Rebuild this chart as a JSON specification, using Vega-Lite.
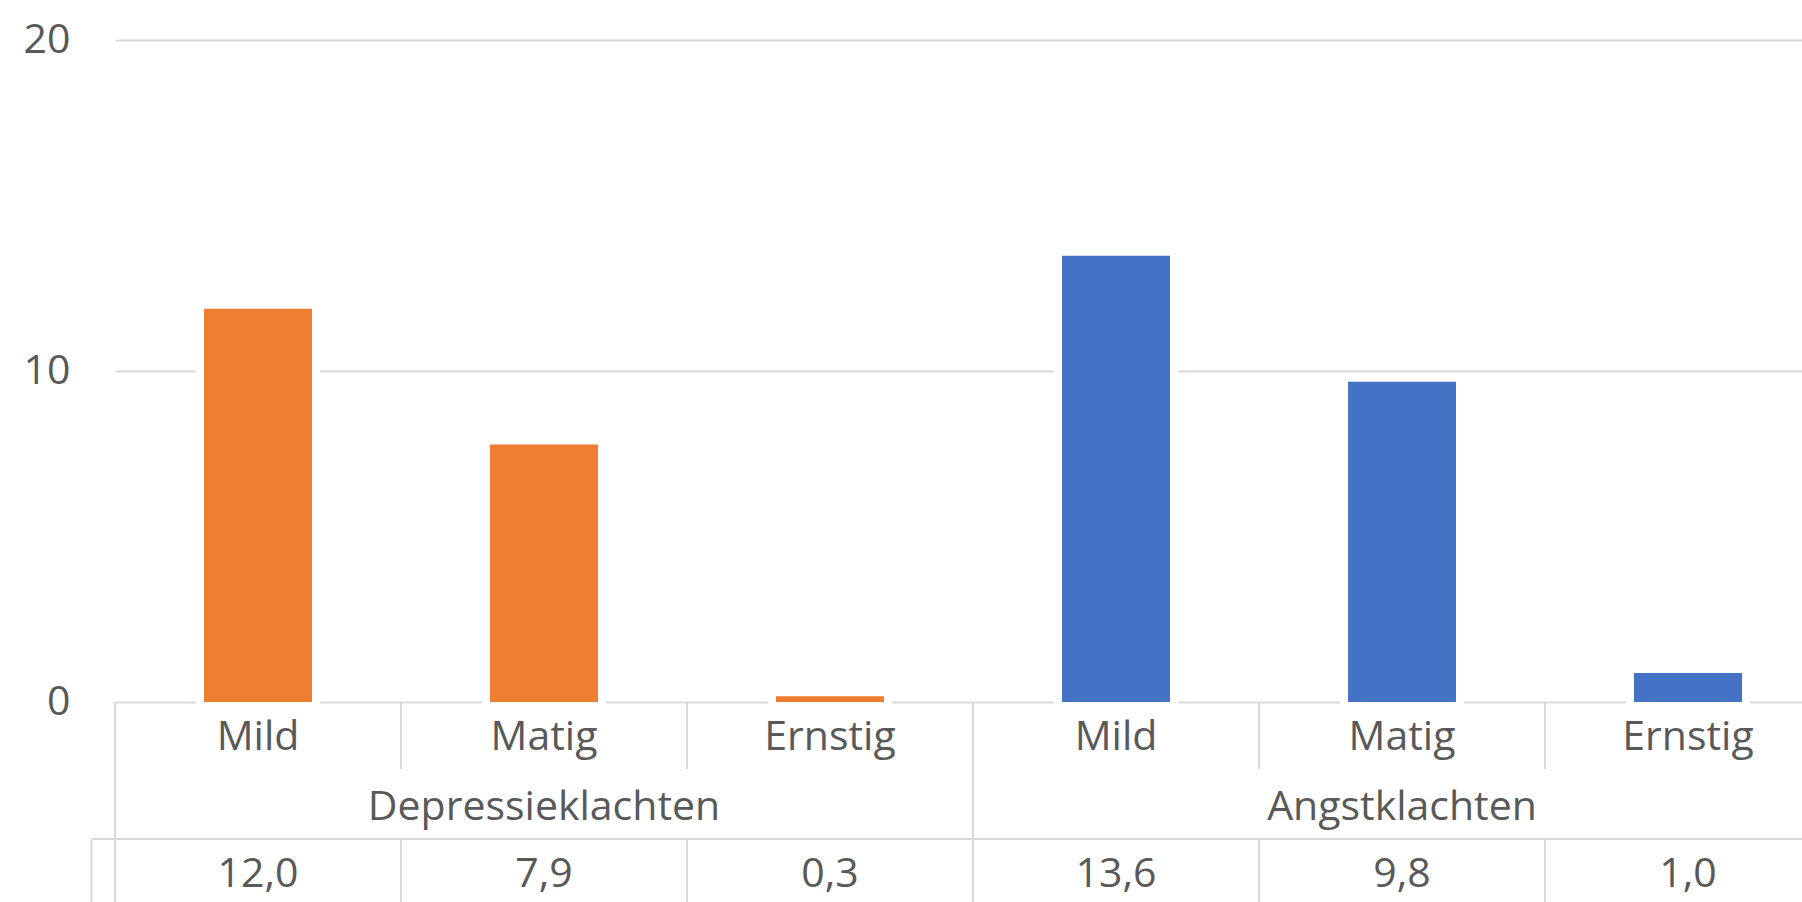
{
  "$schema": "https://vega.github.io/schema/vega-lite/v6.json",
  "autosize": {"type": "none"},
  "padding": {"left": 115, "top": 40, "right": 0, "bottom": 0},
  "width": 1687,
  "height": 862,
  "background": "white",
  "config": {
    "locale": {"number": {"decimal": ",", "thousands": ".", "grouping": [3], "currency": ["€", ""]}},
    "view": {"stroke": null},
    "font": "Open Sans",
    "text": {"font": "Open Sans", "fontSize": 41, "color": "#595959"},
    "rule": {"color": "#D9D9D9", "strokeWidth": 2}
  },
  "data": {"values": [
    {"id": "D-Mild", "groep": "Depressieklachten", "ernst": "Mild", "pct": 12.0},
    {"id": "D-Matig", "groep": "Depressieklachten", "ernst": "Matig", "pct": 7.9},
    {"id": "D-Ernstig", "groep": "Depressieklachten", "ernst": "Ernstig", "pct": 0.3},
    {"id": "A-Mild", "groep": "Angstklachten", "ernst": "Mild", "pct": 13.6},
    {"id": "A-Matig", "groep": "Angstklachten", "ernst": "Matig", "pct": 9.8},
    {"id": "A-Ernstig", "groep": "Angstklachten", "ernst": "Ernstig", "pct": 1.0}
  ]},
  "encoding": {
    "x": {"field": "id", "type": "nominal", "sort": null, "axis": null,
          "scale": {"range": [0, 1716], "paddingInner": 0, "paddingOuter": 0}}
  },
  "layer": [
    {
      "mark": {"type": "bar", "width": {"band": 0.4056}, "stroke": "white", "strokeWidth": 8},
      "encoding": {
        "y": {"field": "pct", "type": "quantitative",
              "scale": {"domain": [-6.04, 20], "nice": false, "zero": false},
              "axis": {"values": [0, 10, 20], "grid": true, "gridColor": "#D9D9D9", "gridWidth": 2,
                       "domain": false, "ticks": false, "labelFont": "Open Sans", "labelFontSize": 41,
                       "labelColor": "#595959", "labelPadding": 45, "title": null, "format": "d"}},
        "y2": {"datum": -0.121},
        "color": {"field": "groep", "type": "nominal",
                  "scale": {"domain": ["Depressieklachten", "Angstklachten"], "range": ["#ED7D31", "#4472C4"]},
                  "legend": null}
      }
    },
    {
      "mark": "rule",
      "encoding": {"y": {"datum": 0}}
    },
    {
      "mark": {"type": "text", "baseline": "alphabetic", "align": "center"},
      "encoding": {"y": {"datum": -1.45}, "text": {"field": "ernst"}}
    },
    {
      "transform": [{"filter": "datum.ernst === 'Matig'"}],
      "mark": {"type": "text", "baseline": "alphabetic", "align": "center"},
      "encoding": {"y": {"datum": -3.565}, "text": {"field": "groep"}}
    },
    {
      "mark": {"type": "text", "baseline": "alphabetic", "align": "center"},
      "encoding": {"y": {"datum": -5.58}, "text": {"field": "pct", "type": "quantitative", "format": ".1f"}}
    },
    {
      "transform": [{"filter": "datum.ernst !== 'Mild'"}],
      "mark": "rule",
      "encoding": {
        "x": {"field": "id", "type": "nominal", "sort": null, "axis": null, "bandPosition": 0},
        "y": {"datum": 0}, "y2": {"datum": -2.024}
      }
    },
    {
      "transform": [{"filter": "datum.ernst === 'Mild'"}],
      "mark": "rule",
      "encoding": {
        "x": {"field": "id", "type": "nominal", "sort": null, "axis": null, "bandPosition": 0},
        "y": {"datum": 0}, "y2": {"datum": -6.04}
      }
    },
    {
      "mark": "rule",
      "encoding": {
        "x": {"field": "id", "type": "nominal", "sort": null, "axis": null, "bandPosition": 0},
        "y": {"datum": -4.139}, "y2": {"datum": -6.04}
      }
    },
    {
      "transform": [{"filter": "datum.id === 'D-Mild'"}],
      "mark": "rule",
      "encoding": {
        "x": {"field": "id", "type": "nominal", "sort": null, "axis": null, "bandPosition": -0.082},
        "y": {"datum": -4.139}, "y2": {"datum": -6.04}
      }
    },
    {
      "transform": [{"filter": "datum.id === 'D-Mild'"}],
      "mark": "rule",
      "encoding": {
        "x": {"field": "id", "type": "nominal", "sort": null, "axis": null, "bandPosition": -0.082},
        "x2": {"datum": "A-Ernstig", "bandPosition": 1},
        "y": {"datum": -4.139}
      }
    }
  ]
}
